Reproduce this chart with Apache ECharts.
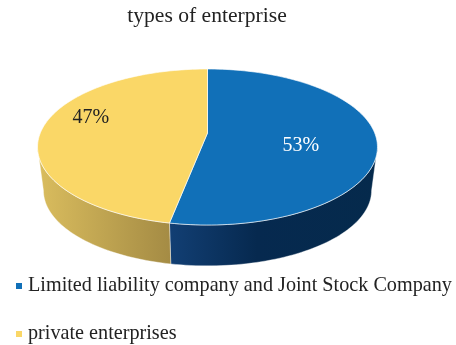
<!DOCTYPE html>
<html>
<head>
<meta charset="utf-8">
<style>html,body{margin:0;padding:0;background:#fff}#chart{width:456px;height:345px}</style>
<script src="https://cdn.jsdelivr.net/npm/echarts@6/dist/echarts.min.js"></script>
</head>
<body>
<div id="chart"></div>
<script>
const titleText = 'types of enterprise';
const categories = ['Limited liability company and Joint Stock Company', 'private enterprises'];
const shares = [53, 47];
const faceColors = ['#1170B8', '#FAD767'];
const wallStops = [
  [[0, '#123F74'], [0.42, '#06294F'], [1, '#052A4C']],
  [[0, '#DABD5E'], [1, '#A48B44']]
];
const labelColors = ['#FFFFFF', '#222222'];
// radial position of each percentage label, plus a small nudge in pixels
const labelRadius = [0.55, 0.71];
const labelNudge = [[1, 9], [0, -10]];

// Perspective projection of the tilted disc: unit-circle angle (degrees,
// clockwise from the far side) to screen pixels.
const TILT = 0.1795;
const topRim = { cx: 207.5, cy: 133, b: 167.2, a: 75.5 };
const lowRim = { cx: 207.5, cy: 177, b: 161.4, a: 72.9 };
function project(rim, deg, r) {
  const t = deg * Math.PI / 180, u = Math.sin(t) * r, v = Math.cos(t) * r;
  const w = 1 + TILT * v;
  return [rim.cx + rim.b * u / w, rim.cy - rim.a * v / w];
}
function arc(rim, from, to) {
  const pts = [], n = Math.max(2, Math.ceil(Math.abs(to - from) / 1.5));
  for (let i = 0; i <= n; i++) pts.push(project(rim, from + (to - from) * i / n, 1));
  return pts;
}
// the side wall is visible only between these two angles
const tangent = Math.acos(-TILT) * 180 / Math.PI;
const wallFrom = tangent, wallTo = 360 - tangent;

const total = shares.reduce((a, b) => a + b, 0);
function renderSlice(index) {
  return function (params, api) {
    const start = api.value(0) / total * 360;
    const end = api.value(1) / total * 360;
    const children = [];
    const a = Math.max(start, wallFrom), b = Math.min(end, wallTo);
    if (b > a) {
      children.push({
        type: 'polygon',
        shape: { points: arc(topRim, a, b).concat(arc(lowRim, b, a)) },
        style: {
          fill: new echarts.graphic.LinearGradient(0, 0, 1, 0,
            wallStops[index].map(s => ({ offset: s[0], color: s[1] }))),
          stroke: 'rgba(255,255,255,0.55)', lineWidth: 0.7
        }
      });
    }
    children.push({
      type: 'polygon',
      shape: { points: [project(topRim, 0, 0)].concat(arc(topRim, start, end)) },
      style: { fill: faceColors[index], stroke: 'rgba(255,255,255,0.8)', lineWidth: 0.8 }
    });
    const mid = (start + end) / 2;
    const pos = project(topRim, mid, labelRadius[index]);
    children.push({
      type: 'text',
      style: {
        x: pos[0] + labelNudge[index][0], y: pos[1] + labelNudge[index][1],
        text: Math.round(api.value(1) - api.value(0)) + '%',
        fill: labelColors[index],
        font: '20px "Liberation Serif"',
        align: 'center', verticalAlign: 'middle'
      }
    });
    return { type: 'group', children };
  };
}

let running = 0;
const series = categories.map((name, i) => {
  const from = running;
  running += shares[i];
  return {
    type: 'custom',
    name,
    coordinateSystem: 'none',
    silent: true,
    animation: false,
    itemStyle: { color: faceColors[i] },
    data: [[from, running]],
    encode: { value: [0, 1] },
    renderItem: renderSlice(i)
  };
});

const chart = echarts.init(document.getElementById('chart'), null, { renderer: 'canvas' });
chart.setOption({
  backgroundColor: '#ffffff',
  animation: false,
  title: {
    text: titleText, left: 202, top: 0, textAlign: 'center',
    textStyle: { fontFamily: 'Liberation Serif', fontSize: 21.6, fontWeight: 'normal', color: '#222222' }
  },
  legend: {
    orient: 'vertical', left: 16, top: 275, padding: 0, itemGap: 26,
    itemWidth: 6, itemHeight: 6, icon: 'rect', itemStyle: { borderWidth: 0 },
    selectedMode: false, data: categories,
    textStyle: { fontFamily: 'Liberation Serif', fontSize: 20.2, color: '#222222', padding: [0, 0, 0, 1], lineHeight: 22 }
  },
  series
});
</script>
</body>
</html>
